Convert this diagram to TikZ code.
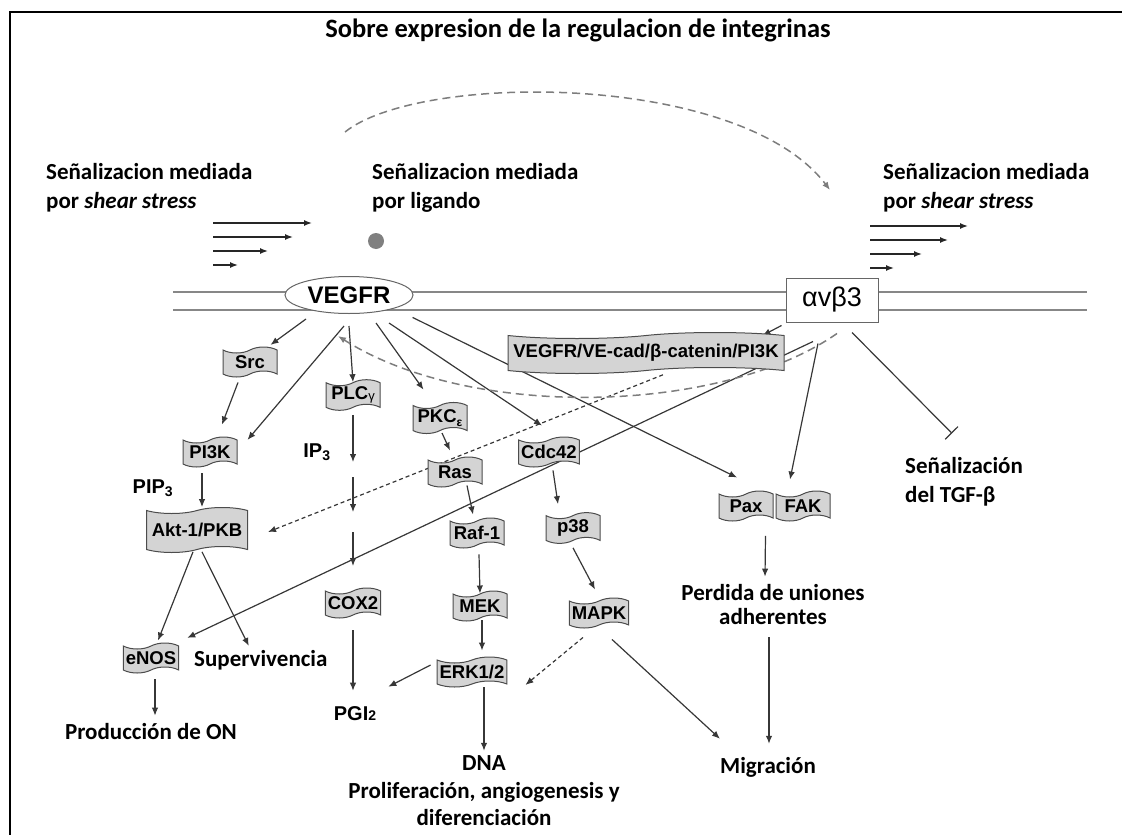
\documentclass[tikz,border=0pt]{standalone}
\usepackage{fontspec}
\setmainfont{Carlito}
\newfontfamily\arialfont{Liberation Sans}
\usetikzlibrary{shapes.geometric}
\usetikzlibrary{shapes.symbols}
\usetikzlibrary{arrows.meta}
\usetikzlibrary{backgrounds}
\definecolor{linegray}{RGB}{55,55,55}
\definecolor{boxgray}{RGB}{212,212,212}
\definecolor{dashgray}{RGB}{125,125,125}
\definecolor{membgray}{RGB}{135,135,135}

\begin{document}
\begin{tikzpicture}[x=1pt,y=-1pt,
 prot/.style={tape,draw=black!70,fill=boxgray,line width=1pt,tape bend height=6pt,minimum width=54pt,minimum height=30pt,inner xsep=2.5pt,inner ysep=1pt,font=\arialfont\bfseries\fontsize{18.5}{21}\selectfont},
 lbl/.style={inner sep=0pt,font=\bfseries\fontsize{23}{29}\selectfont},
 sym/.style={inner sep=0pt,font=\arialfont\bfseries\fontsize{20}{24}\selectfont},
 arr/.style={draw=linegray,line width=1.2pt,-{Latex[length=8pt,width=6.5pt]}},
 dotarr/.style={arr,dash pattern=on 4pt off 3pt},
 dasharr/.style={draw=dashgray,line width=1.5pt,dash pattern=on 8pt off 5pt,-{Latex[length=8pt,width=6.5pt]}},
 flow/.style={draw=black!85,line width=1.4pt,-{Latex[length=8pt,width=6pt]}},
 memb/.style={draw=membgray,line width=1.8pt}]
\useasboundingbox (0,0) rectangle (1122,835);
%frame
\draw[line width=2pt] (10,835)--(10,12)--(1122,12);
%membrane
\draw[memb] (173,292)--(1087,292) (173,310)--(1087,310);
\path (578,30) node(title)[lbl,font=\bfseries\fontsize{26.5}{30}\selectfont]{Sobre expresion de la regulacion de integrinas}
(46,188) node(shearL)[lbl,anchor=west,align=left]{Señalizacion mediada\\por \textit{shear stress}}
(372,188) node(ligtxt)[lbl,anchor=west,align=left]{Señalizacion mediada\\por ligando}
(883,188) node(shearR)[lbl,anchor=west,align=left]{Señalizacion mediada\\por \textit{shear stress}}
(376,241) node(ligand)[circle,fill=black!50,minimum size=16pt,inner sep=0pt]{}
(349,295) node(vegfr)[ellipse,draw=black!60,fill=white,line width=1pt,minimum width=128pt,minimum height=37pt,inner sep=0pt,font=\arialfont\bfseries\fontsize{24}{28}\selectfont]{VEGFR}
(832,300) node(itg)[rectangle,draw=black!60,fill=white,line width=1pt,minimum width=92pt,minimum height=44pt,font=\arialfont\fontsize{27}{30}\selectfont]{αvβ3}
(250,362) node(src)[prot]{Src}
(353,395) node(plc)[prot]{PLC\raisebox{-1pt}{\fontsize{13}{13}\selectfont\mdseries γ}}
(440,418) node(pkc)[prot]{PKC\raisebox{-4pt}{\fontsize{12}{12}\selectfont ε}}
(646,353) node(cplx)[prot,minimum width=276pt,minimum height=41pt]{VEGFR/VE-cad/β-catenin/PI3K}
(549,452) node(cdc)[prot]{Cdc42}
(210,452) node(pi3k)[prot]{PI3K}
(455,472) node(ras)[prot]{Ras}
(197,530) node(akt)[prot,minimum width=101pt,minimum height=45pt]{Akt-1/PKB}
(477,533) node(raf)[prot]{Raf-1}
(573,528) node(p38)[prot]{p38}
(746,506) node(pax)[prot]{Pax}
(803,506) node(fak)[prot]{FAK}
(353,603) node(cox)[prot]{COX2}
(480,606) node(mek)[prot]{MEK}
(599,613) node(mapk)[prot]{MAPK}
(151,658) node(enos)[prot]{eNOS}
(472,672) node(erk)[prot]{ERK1/2}
(317,452) node(ip3)[sym]{IP\textsubscript{3}}
(153,488) node(pip3)[sym]{PIP\textsubscript{3}}
(355,714) node(pgi)[sym]{PGI{\fontsize{14}{14}\selectfont 2}}
(194,660) node(surv)[lbl,anchor=west]{Supervivencia}
(151,732) node(no)[lbl]{Producción de ON}
(484,791) node(dna)[lbl,align=center,font=\bfseries\fontsize{23}{27.5}\selectfont]{DNA\\Proliferación, angiogenesis y\\diferenciación}
(773,605) node(perd)[lbl,align=center,font=\bfseries\fontsize{23}{24}\selectfont]{Perdida de uniones\\adherentes}
(768,767) node(migr)[lbl]{Migración}
(905,482) node(tgf)[lbl,anchor=west,align=left]{Señalización\\del TGF-β};
\coordinate (arcA) at (345,132);
\coordinate (arcB) at (830,190);
\coordinate (ipa) at (353,462);
\coordinate (ipb) at (353,477);
\coordinate (ipc) at (353,512);
\coordinate (ipd) at (353,532);
\coordinate (ipe) at (353,566);
%shear stress
\draw[flow] (213,223)--(312,223);
\draw[flow] (213,237)--(293,237);
\draw[flow] (213,251)--(268,251);
\draw[flow] (213,265)--(238,265);
\draw[flow] (870,226)--(968,226);
\draw[flow] (870,240)--(948,240);
\draw[flow] (870,254)--(922,254);
\draw[flow] (870,268)--(894,268);
\draw[dasharr] (arcA) .. controls (420,72) and (740,72) .. (arcB);
\begin{scope}[on background layer]
\draw[arr] ([xshift=-43pt,yshift=-5pt]vegfr.south)--([shift={(-7pt,5pt)}]src.north east);
\draw[arr] ([xshift=-5pt,yshift=-12pt]vegfr.south)--([xshift=10pt]pi3k.north east);
\draw[arr] ([yshift=-12pt]vegfr.south)--(plc.north);
\draw[arr] ([xshift=27pt,yshift=-9pt]vegfr.south)--([shift={(11pt,15pt)}]pkc.north west);
\draw[arr] ([xshift=40pt,yshift=-9pt]vegfr.south)--([shift={(-7pt,14pt)}]cdc.north);
\draw[arr] ([shift={(18pt,-9pt)}]vegfr.south east)--([shift={(-9pt,16pt)}]pax.north);
\draw[arr] ([shift={(-4pt,-3pt)}]itg.south west)--([xshift=-22pt]cplx.north east);
\draw[arr] ([shift={(-19pt,-19pt)}]itg.south)--([shift={(8pt,8pt)}]enos.north east);
\draw[arr] ([shift={(-14pt,-21pt)}]itg.south)--([shift={(-13pt,14pt)}]fak.north);
\draw[draw=linegray,line width=1.2pt,-{Bar[width=18pt]}] ([shift={(20pt,-10pt)}]itg.south)--([shift={(-12pt,24pt)}]tgf.north);
\draw[dotarr] ([shift={(17pt,-4pt)}]cplx.south)--([shift={(20pt,-2pt)}]akt.east);
\draw[dasharr] ([shift={(5pt,-11pt)}]itg.south) .. controls (720,415) and (470,420) .. ([shift={(-11pt,-22pt)}]vegfr.south);
\draw[arr] ([shift={(-12pt,-8pt)}]src.south)--([shift={(12pt,15pt)}]pi3k.north);
\draw[arr] ([shift={(-8pt,-9pt)}]pi3k.south)--([shift={(5pt,3pt)}]akt.north);
\draw[arr] ([shift={(-4pt,-2pt)}]akt.south)--([shift={(7pt,5pt)}]enos.north);
\draw[arr] ([shift={(5pt,-2pt)}]akt.south)--([shift={(-12pt,4pt)}]surv.north);
\draw[arr] ([shift={(4pt,-9pt)}]enos.south)--([shift={(4pt,8pt)}]no.north);
\draw[arr] ([yshift=-7pt]plc.south)--(ipa);
\draw[arr] (ipb)--(ipc);
\draw[arr] (ipd)--(ipe);
\draw[arr] ([yshift=-15pt]cox.south)--([shift={(-2pt,16pt)}]pgi.north);
\draw[arr] ([shift={(2pt,-2pt)}]pkc.south)--([shift={(-5pt,9pt)}]ras.north);
\draw[arr] ([shift={(12pt,-1pt)}]ras.south)--([shift={(-4pt,6pt)}]raf.north);
\draw[arr] ([shift={(2pt,-9pt)}]raf.south)--(mek.north);
\draw[arr] ([shift={(2pt,-2pt)}]mek.south)--([shift={(10pt,9pt)}]erk.north);
\draw[arr] ([shift={(-6pt,7pt)}]erk.west)--([shift={(12pt,20pt)}]pgi.north east);
\draw[arr] ([shift={(12pt,-3pt)}]erk.south)--([yshift=5pt]dna.north);
\draw[arr] ([shift={(4pt,-6pt)}]cdc.south)--([shift={(-15pt,11pt)}]p38.north);
\draw[arr] ([yshift=-7pt]p38.south)--([shift={(-4pt,11pt)}]mapk.north);
\draw[dotarr] ([shift={(-16pt,-12pt)}]mapk.south)--([shift={(18pt,-13pt)}]erk.east);
\draw[arr] ([shift={(13pt,-14pt)}]mapk.south)--([yshift=18pt]migr.north west);
\draw[arr] ([shift={(-8pt,-17pt)}]pax.south east)--([shift={(-8pt,8pt)}]perd.north);
\draw[arr] ([shift={(-4pt,-12pt)}]perd.south)--([shift={(1pt,13pt)}]migr.north);
\end{scope}
\end{tikzpicture}
\end{document}
